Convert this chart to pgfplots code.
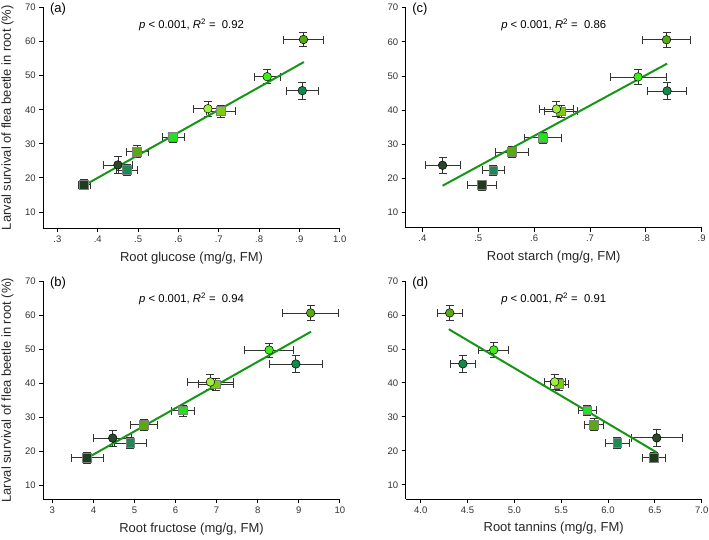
\documentclass[border=0pt]{standalone}
\usepackage{fontspec}
\setmainfont{Liberation Sans}
\usepackage{pgfplots}
\usepackage{pgfplotstable}
\pgfplotsset{compat=1.18}

\definecolor{cA}{HTML}{1E3D1E}
\definecolor{cB}{HTML}{2A472A}
\definecolor{cC}{HTML}{1B8A55}
\definecolor{cD}{HTML}{5AA812}
\definecolor{cE}{HTML}{22E022}
\definecolor{cF}{HTML}{A0F03A}
\definecolor{cG}{HTML}{7ACC10}
\definecolor{cH}{HTML}{3CF014}
\definecolor{cI}{HTML}{108A48}
\definecolor{cJ}{HTML}{56AA10}
\definecolor{fitline}{HTML}{169616}
\definecolor{ticktext}{HTML}{333333}

% x  ex  y  ey  class
\pgfplotstableread{
x     ex     y     ey   c
0.366 0.015  18.0  1.5  A
0.450 0.037  23.8  2.4  B
0.472 0.027  22.3  1.6  C
0.498 0.027  27.7  1.7  D
0.587 0.028  31.9  1.6  E
0.705 0.035  39.6  1.8  G
0.673 0.037  40.3  2.2  F
0.820 0.033  49.7  2.1  H
0.907 0.039  45.6  2.5  I
0.910 0.050  60.6  2.1  J
}\glucose

\pgfplotstableread{
x     ex     y     ey   c
0.506 0.026  18.0  1.5  A
0.436 0.031  23.8  2.4  B
0.527 0.020  22.3  1.6  C
0.560 0.030  27.7  1.7  D
0.616 0.033  31.9  1.6  E
0.648 0.030  39.6  1.8  G
0.640 0.031  40.3  2.2  F
0.786 0.050  49.7  2.1  H
0.838 0.035  45.6  2.5  I
0.837 0.043  60.6  2.1  J
}\starch

\pgfplotstableread{
x     ex     y     ey   c
3.85  0.39   18.0  1.5  A
4.47  0.46   23.8  2.4  B
4.90  0.38   22.3  1.6  C
5.23  0.33   27.7  1.7  D
6.18  0.28   31.9  1.6  E
6.98  0.42   39.6  1.8  G
6.85  0.55   40.3  2.2  F
8.28  0.60   49.7  2.1  H
8.93  0.65   45.6  2.5  I
9.29  0.68   60.6  2.1  J
}\fructose

\pgfplotstableread{
x     ex     y     ey   c
6.49  0.125  18.0  1.5  A
6.52  0.27   23.8  2.4  B
6.10  0.13   22.3  1.6  C
5.85  0.10   27.7  1.7  D
5.78  0.10   31.9  1.6  E
5.48  0.10   39.6  1.8  G
5.43  0.11   40.3  2.2  F
4.78  0.16   49.7  2.1  H
4.45  0.13   45.6  2.5  I
4.31  0.13   60.6  2.1  J
}\tannins

\pgfplotsset{
  panel/.style={
    scale only axis, width=296.5pt,
    axis x line*=bottom, axis y line*=left,
    axis line style={line width=0.9pt, -},
    tick align=outside, major tick length=4pt,
    tick style={black, line width=0.8pt},
    ymax=70, ytick={10,20,...,70},
    tick label style={font=\fontsize{9.5}{11}\selectfont, text=ticktext},
    /pgf/number format/assume math mode=true,
    xlabel style={font=\fontsize{13}{15}\selectfont, text=black!85,
      at={(axis description cs:0.5,-0.135)}, anchor=center},
    ylabel style={font=\fontsize{13}{15}\selectfont, text=black!85,
      at={(axis description cs:-0.121,0.5)}, anchor=center},
    clip=false,
  },
  ebars/.style={
    forget plot, only marks, mark=none, black!80,
    error bars/x dir=both, error bars/x explicit,
    error bars/y dir=both, error bars/y explicit,
    error bars/error bar style={draw=black!80, line width=0.75pt},
    error bars/error mark=|,
    error bars/error mark options={draw=black!80, mark size=4pt, line width=0.75pt},
  },
  pts/.style={
    scatter, only marks, scatter src=explicit symbolic,
    scatter/classes={
      A={mark=square*, fill=cA, draw=gray, mark size=4.4pt, line width=0.9pt},
      B={mark=*, fill=cB, draw=black, mark size=4.3pt, line width=0.5pt},
      C={mark=square*, fill=cC, draw=gray, mark size=4.4pt, line width=0.9pt},
      D={mark=square*, fill=cD, draw=gray, mark size=4.4pt, line width=0.9pt},
      E={mark=square*, fill=cE, draw=gray, mark size=4.4pt, line width=0.9pt},
      F={mark=*, fill=cF, draw=black, mark size=4.3pt, line width=0.5pt},
      G={mark=square*, fill=cG, draw=gray, mark size=4.4pt, line width=0.9pt},
      H={mark=*, fill=cH, draw=black, mark size=4.3pt, line width=0.5pt},
      I={mark=*, fill=cI, draw=black, mark size=4.3pt, line width=0.5pt},
      J={mark=*, fill=cJ, draw=black, mark size=4.3pt, line width=0.5pt}},
  },
  fitln/.style={fitline, line width=2pt, no marks},
}
\tikzset{
  plab/.style={font=\fontsize{13}{15}\selectfont, anchor=north west, inner sep=0pt},
  stat/.style={font=\fontsize{11.3}{13}\selectfont, anchor=center},
}

\begin{document}
\begin{tikzpicture}
\path[use as bounding box] (0,0) rectangle (709pt,540pt);

% (a)
\begin{axis}[panel, at={(43.3pt,312pt)}, anchor=south west, height=220.5pt,
  xmin=0.265, xmax=1.0, ymin=5.3,
  xtick={0.3,0.4,...,1.0}, xticklabels={.3,.4,.5,.6,.7,.8,.9,1.0},
  xlabel={Root glucose (mg/g, FM)},
  ylabel={Larval survival of flea beetle in root (\%)}]
\addplot[ebars] table[x=x, y=y, x error=ex, y error=ey] {\glucose};
\addplot[pts] table[x=x, y=y, meta=c] {\glucose};
\addplot[fitln] coordinates {(0.362,17.5) (0.911,54.0)};
\node[plab] at (axis description cs:0.022,1.02) {(a)};
\node[stat] at (axis description cs:0.5,0.92) {\textit{p} < 0.001, \textit{R}\textsuperscript{2} =\ \ 0.92};
\end{axis}

% (c)
\begin{axis}[panel, at={(405.7pt,312.3pt)}, anchor=south west, height=220pt, width=296pt,
  xmin=0.370, xmax=0.9, ymin=5.5,
  xtick={0.4,0.5,...,0.9}, xticklabels={.4,.5,.6,.7,.8,.9},
  xlabel={Root starch (mg/g, FM)}]
\addplot[ebars] table[x=x, y=y, x error=ex, y error=ey] {\starch};
\addplot[pts] table[x=x, y=y, meta=c] {\starch};
\addplot[fitln] coordinates {(0.436,17.8) (0.838,53.6)};
\node[plab] at (axis description cs:0.022,1.02) {(c)};
\node[stat] at (axis description cs:0.5,0.92) {\textit{p} < 0.001, \textit{R}\textsuperscript{2} =\ \ 0.86};
\end{axis}

% (b)
\begin{axis}[panel, at={(43.3pt,40.7pt)}, anchor=south west, height=218.3pt,
  xmin=2.78, xmax=10, ymin=5.8,
  xtick={3,4,...,10},
  xlabel={Root fructose (mg/g, FM)},
  ylabel={Larval survival of flea beetle in root (\%)}]
\addplot[ebars] table[x=x, y=y, x error=ex, y error=ey] {\fructose};
\addplot[pts] table[x=x, y=y, meta=c] {\fructose};
\addplot[fitln] coordinates {(3.80,17.6) (9.30,55.1)};
\node[plab] at (axis description cs:0.022,1.02) {(b)};
\node[stat] at (axis description cs:0.5,0.92) {\textit{p} < 0.001, \textit{R}\textsuperscript{2} =\ \ 0.94};
\end{axis}

% (d)
\begin{axis}[panel, at={(405.7pt,41pt)}, anchor=south west, height=218pt, width=296pt,
  xmin=3.84, xmax=7.0, ymin=5.8,
  xtick={4.0,4.5,...,7.0}, xticklabels={4.0,4.5,5.0,5.5,6.0,6.5,7.0},
  xlabel={Root tannins (mg/g, FM)}]
\addplot[ebars] table[x=x, y=y, x error=ex, y error=ey] {\tannins};
\addplot[pts] table[x=x, y=y, meta=c] {\tannins};
\addplot[fitln] coordinates {(4.30,55.8) (6.52,19.5)};
\node[plab] at (axis description cs:0.022,1.02) {(d)};
\node[stat] at (axis description cs:0.5,0.92) {\textit{p} < 0.001, \textit{R}\textsuperscript{2} =\ \ 0.91};
\end{axis}
\end{tikzpicture}
\end{document}
